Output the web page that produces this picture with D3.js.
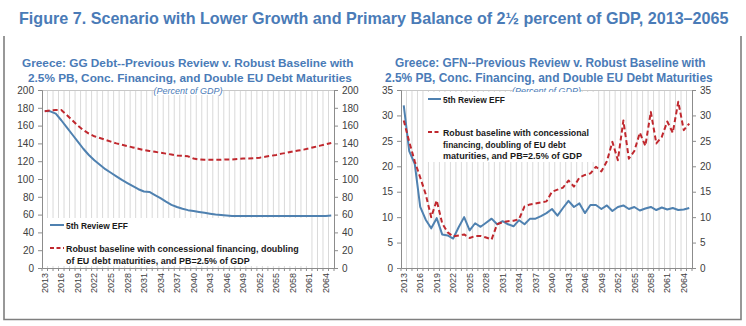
<!DOCTYPE html>
<html>
<head>
<meta charset="utf-8">
<script src="https://cdn.jsdelivr.net/npm/d3@7"></script>
<style>
  html, body { margin: 0; padding: 0; background: #fff; }
  svg { display: block; }
</style>
</head>
<body>
<svg id="fig" width="746" height="326"></svg>
<script>
// ---- data -------------------------------------------------------------
const years = [
  "2013","2014","2015","2016","2017","2018","2019","2020","2021","2022",
  "2023","2024","2025","2026","2027","2028","2029","2030","2031","2032",
  "2033","2034","2035","2036","2037","2038","2039","2040","2041","2042",
  "2043","2044","2045","2046","2047","2048","2049","2050","2051","2052",
  "2053","2054","2055","2056","2057","2058","2059","2060","2061","2062",
  "2063","2064","2065"
];
const yearTickLabels = ["2013","2016","2019","2022","2025","2028","2031","2034","2037",
  "2040","2043","2046","2049","2052","2055","2058","2061","2064"];

// GG debt, percent of GDP
const debtEff = [
  176.5,176,173.5,166,158,150,142,134,127,121,
  116,111,107,103,99,95.5,92,88.5,86,85.5,
  82,78.5,74.5,71,68.5,66.5,65,64,63,62,
  61,60,59.5,59,58.5,58.5,58.5,58.5,58.5,58.5,
  58.5,58.5,58.5,58.5,58.5,58.5,58.5,58.5,58.5,58.5,
  58.5,58.5,59
];
const debtRobust = [
  176,177,177.5,177.5,172,166,160,155,151,148,
  146,144,142,140,138.5,137,135.5,134,132.5,131.5,
  130.5,129.5,128.5,127.5,126.5,126,125.5,123,122,121.5,
  121.5,121.5,121.5,122,122,122.5,123,123,123.5,124,
  125,126,127,128.5,129.5,131,132,133,134.5,136,
  137.5,139,140.5
];
// Gross financing needs, percent of GDP
const gfnEff = [
  32,23,20.5,12,9.5,7.8,9.8,6.6,6.4,5.8,
  8.0,10,7.4,8.8,8.1,8.9,9.7,8.6,9.2,8.6,
  8.2,9.4,8.6,9.7,9.7,10.2,10.8,11.6,10.3,11.8,
  13.2,12.0,12.7,10.8,12.4,12.4,11.6,12.3,11.2,12.0,
  12.3,11.6,12.0,11.3,11.7,12.0,11.4,11.9,11.5,11.8,
  11.4,11.5,11.8
];
const gfnRobust = [
  29,24.8,21,17.8,14.5,10,13.3,8.8,7,6.2,
  6.4,6.6,5.9,6.3,6.3,6.0,5.6,8.6,9.0,9.2,
  9.3,9.6,12.1,12.5,12.7,12.9,13.1,15.0,15.4,15.8,
  17.2,16.0,17.8,18.3,18.6,19.9,19.0,21.0,24.8,21.2,
  29.0,21.5,23.0,26.6,24.0,30.7,24.5,25.8,28.8,26.6,
  32.7,27.1,28.4
];
const debtTicks = [0,20,40,60,80,100,120,140,160,180,200];
const gfnTicks = [0,5,10,15,20,25,30,35];

const figureTitle = "Figure 7. Scenario with Lower Growth and Primary Balance of 2\u00BD percent of GDP, 2013\u20132065";
const unitLabel = "(Percent of GDP)";
const effName = "5th Review EFF";

// ---- styling ----------------------------------------------------------
const BLUE_TXT = "#4a7bb7";
const BLUE_LINE = "#4f81b0";
const RED_LINE = "#c0282e";
const GRID = "#d9d9d9";
const AXIS = "#8c8c8c";
const LABEL = "#404040";
const SANS = "'Liberation Sans', Arial, sans-serif";
const NARROW = "'Liberation Sans Narrow', 'Liberation Sans', Arial, sans-serif";

const svg = d3.select("#fig");

// size a text so that its natural width equals the wanted width
function fitText(sel, width, size) {
  sel.attr("font-size", size);
  const w = sel.node().getComputedTextLength();
  if (w > 0) sel.attr("font-size", (size * width / w).toFixed(2));
  return sel;
}

// outer frame
svg.append("path")
  .attr("d", "M4,36 V319.5 H741 V36")
  .attr("fill", "none").attr("stroke", "#7f7f7f").attr("stroke-width", 1.6);

fitText(svg.append("text")
  .attr("x", 19).attr("y", 24)
  .attr("font-family", NARROW).attr("font-weight", "bold")
  .attr("fill", BLUE_TXT)
  .text(figureTitle), 710, 18.5);

function panel(cfg) {
  const g = svg.append("g");
  const x = d3.scaleBand().domain(years).range([cfg.x0, cfg.x1]).padding(0);
  const y = d3.scaleLinear().domain(cfg.domain).range([cfg.yb, cfg.yt]);
  const bw = x.bandwidth();
  const cx = d => x(d) + bw / 2;

  // subtitle
  cfg.subtitle.forEach((s, i) => {
    fitText(g.append("text")
      .attr("x", cfg.subX[i]).attr("y", cfg.subY[i])
      .attr("font-family", NARROW).attr("font-weight", "bold")
      .attr("fill", BLUE_TXT).text(s), cfg.subW[i], 13.5);
  });

  // vertical gridlines at category boundaries
  const bounds = years.map(d => x(d)).concat([cfg.x1]);
  g.append("g").selectAll("line").data(bounds.slice(1, -1)).join("line")
    .attr("x1", d => d).attr("x2", d => d)
    .attr("y1", cfg.yt).attr("y2", cfg.yb)
    .attr("stroke", GRID).attr("stroke-width", 1);

  // top border of plot area
  g.append("line")
    .attr("x1", cfg.x0).attr("x2", cfg.x1).attr("y1", cfg.yt + 0.5).attr("y2", cfg.yt + 0.5)
    .attr("stroke", "#c8c8c8").attr("stroke-width", 1);

  // left & right value axes
  const axL = d3.axisLeft(y).tickValues(cfg.ticks).tickSize(4).tickPadding(4);
  const axR = d3.axisRight(y).tickValues(cfg.ticks).tickSize(4).tickPadding(4);
  [[axL, cfg.x0], [axR, cfg.x1]].forEach(([ax, pos]) => {
    const a = g.append("g").attr("transform", `translate(${pos},0)`).call(ax);
    a.select(".domain").attr("stroke", AXIS);
    a.selectAll(".tick line").attr("stroke", AXIS);
    a.selectAll("text").attr("font-family", SANS).attr("font-size", 10).attr("fill", LABEL);
  });

  // category axis
  const axB = d3.axisBottom(x).tickValues(yearTickLabels).tickSize(0).tickPadding(0);
  const b = g.append("g").attr("transform", `translate(0,${cfg.yb})`).call(axB);
  b.select(".domain").attr("stroke", AXIS);
  b.selectAll("text")
    .attr("font-family", SANS).attr("font-size", 9).attr("fill", LABEL)
    .attr("transform", "rotate(-90)")
    .attr("text-anchor", "end")
    .attr("x", -5).attr("y", 0).attr("dy", "0.35em");
  g.append("g").selectAll("line").data(bounds).join("line")
    .attr("x1", d => d).attr("x2", d => d)
    .attr("y1", cfg.yb).attr("y2", cfg.yb + 3)
    .attr("stroke", AXIS);

  // unit label
  const ux = (cfg.x0 + cfg.x1) / 2;
  g.append("rect").attr("x", ux - 34).attr("y", cfg.yt - 5).attr("width", 68).attr("height", 10).attr("fill", "#fff");
  g.append("text")
    .attr("x", ux).attr("y", cfg.yt + 3.5).attr("text-anchor", "middle")
    .attr("font-family", SANS).attr("font-style", "italic").attr("font-size", 9)
    .attr("fill", BLUE_TXT).text(unitLabel);

  // series
  const line = d3.line().x((d, i) => cx(years[i])).y(d => y(d));
  g.append("path").datum(cfg.eff).attr("d", line)
    .attr("fill", "none").attr("stroke", BLUE_LINE).attr("stroke-width", 2)
    .attr("stroke-linejoin", "round");
  g.append("path").datum(cfg.robust).attr("d", line)
    .attr("fill", "none").attr("stroke", RED_LINE).attr("stroke-width", 2)
    .attr("stroke-dasharray", "5,3").attr("stroke-linejoin", "round");

  // legend
  const L = cfg.legend;
  g.append("rect").attr("x", L.box[0]).attr("y", L.box[1])
    .attr("width", L.box[2]).attr("height", L.box[3]).attr("fill", "#fff");
  g.append("line").attr("x1", L.sx0).attr("x2", L.sx1).attr("y1", L.effY).attr("y2", L.effY)
    .attr("stroke", BLUE_LINE).attr("stroke-width", 2);
  g.append("line").attr("x1", L.sx0).attr("x2", L.sx1).attr("y1", L.robY).attr("y2", L.robY)
    .attr("stroke", RED_LINE).attr("stroke-width", 2).attr("stroke-dasharray", "4,2.5");
  const legendText = (s, yy, w) => fitText(g.append("text")
    .attr("x", L.tx).attr("y", yy)
    .attr("font-family", NARROW).attr("font-weight", "bold")
    .attr("fill", "#1a1a1a").text(s), w, 10.5);
  legendText(effName, L.effY + 4, L.effW);
  L.robLines.forEach((s, i) => legendText(s, L.robY + 4 + i * L.lh, L.robW[i]));
}

panel({
  x0: 42, x1: 334, yt: 90, yb: 268, domain: [0, 200], ticks: debtTicks,
  eff: debtEff, robust: debtRobust,
  subtitle: ["Greece: GG Debt--Previous Review v. Robust Baseline with",
             "2.5% PB, Conc. Financing, and Double EU Debt Maturities"],
  subX: [22, 28], subY: [67, 82], subW: [332, 324],
  legend: {
    box: [45, 218, 262, 48], sx0: 50, sx1: 64, tx: 66,
    effY: 225, effW: 62, robY: 248, lh: 12,
    robLines: ["Robust baseline with concessional financing, doubling",
               "of EU debt maturities, and PB=2.5% of GDP"],
    robW: [233, 184]
  }
});

panel({
  x0: 401, x1: 692, yt: 90, yb: 268, domain: [0, 35], ticks: gfnTicks,
  eff: gfnEff, robust: gfnRobust,
  subtitle: ["Greece: GFN--Previous Review v. Robust Baseline with",
             "2.5% PB, Conc. Financing, and Double EU Debt Maturities"],
  subX: [395, 385], subY: [67, 82], subW: [311, 328],
  legend: {
    box: [424, 92, 172, 70], sx0: 428, sx1: 441, tx: 443,
    effY: 99, effW: 62, robY: 132, lh: 11.5,
    robLines: ["Robust baseline with concessional",
               "financing, doubling of EU debt",
               "maturities, and PB=2.5% of GDP"],
    robW: [146, 123, 139]
  }
});
</script>
</body>
</html>
